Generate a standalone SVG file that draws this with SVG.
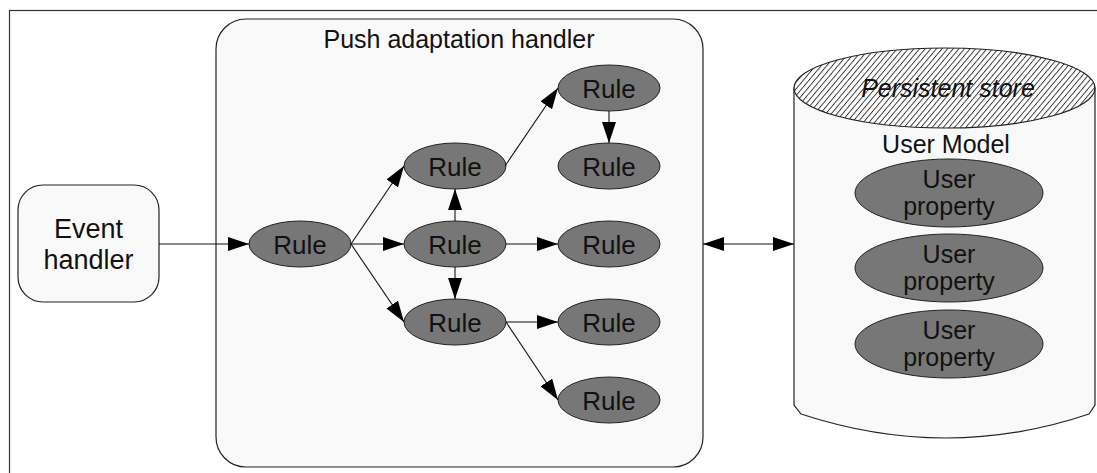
<svg xmlns="http://www.w3.org/2000/svg" width="1097" height="473" viewBox="0 0 1097 473">
  <style>
    .frame { fill: #ffffff; stroke: #333333; stroke-width: 1.2; }
    .box { fill: #f9f9f9; stroke: #222222; stroke-width: 1.2; }
    .rule { fill: #777777; stroke: #222222; stroke-width: 1; }
    .wire { fill: none; stroke: #111111; stroke-width: 1.1; }
    text { font-family: "Liberation Sans", Arial, sans-serif; fill: #111111; text-anchor: middle; }
    .title { font-size: 25px; }
    .rt { font-size: 26px; }
    .ev { font-size: 27px; }
    .up { font-size: 25px; }
  </style>
  <defs>
    <marker id="arrow" viewBox="0 0 21 14" markerWidth="21" markerHeight="14" refX="21" refY="7" orient="auto-start-reverse" markerUnits="userSpaceOnUse">
      <path d="M0,0 L21,7 L0,14 Z" fill="#000000"/>
    </marker>
    <!-- diagonal hatching for the store lid -->
    <pattern id="hatch" patternUnits="userSpaceOnUse" width="4.3" height="10" patternTransform="rotate(40)">
      <line x1="0.5" y1="-1" x2="0.5" y2="11" stroke="#000000" stroke-width="0.8"/>
    </pattern>
  </defs>

  <!-- outer frame -->
  <rect class="frame" x="9.5" y="10.5" width="1200" height="600"/>

  <!-- event handler -->
  <g id="event-handler">
    <rect class="box" x="18" y="185" width="141" height="117" rx="25" ry="25"/>
    <text class="ev" x="88.5" y="238">Event</text>
    <text class="ev" x="88.5" y="269">handler</text>
  </g>

  <!-- push adaptation handler container -->
  <g id="push-adaptation-handler">
    <rect class="box" x="216" y="19" width="487" height="448" rx="30" ry="30"/>
    <text class="title" x="459" y="48">Push adaptation handler</text>
  </g>

  <!-- rule nodes -->
  <g id="rule-1"><ellipse class="rule" cx="300" cy="244" rx="51" ry="23"/><text class="rt" x="300" y="254">Rule</text></g>
  <g id="rule-2"><ellipse class="rule" cx="455" cy="166" rx="51" ry="23"/><text class="rt" x="455" y="176">Rule</text></g>
  <g id="rule-3"><ellipse class="rule" cx="455" cy="244" rx="51" ry="23"/><text class="rt" x="455" y="254">Rule</text></g>
  <g id="rule-4"><ellipse class="rule" cx="455" cy="322" rx="51" ry="23"/><text class="rt" x="455" y="332">Rule</text></g>
  <g id="rule-5"><ellipse class="rule" cx="609" cy="88" rx="51" ry="23"/><text class="rt" x="609" y="98">Rule</text></g>
  <g id="rule-6"><ellipse class="rule" cx="609" cy="166" rx="51" ry="23"/><text class="rt" x="609" y="176">Rule</text></g>
  <g id="rule-7"><ellipse class="rule" cx="609" cy="244" rx="51" ry="23"/><text class="rt" x="609" y="254">Rule</text></g>
  <g id="rule-8"><ellipse class="rule" cx="609" cy="322" rx="51" ry="23"/><text class="rt" x="609" y="332">Rule</text></g>
  <g id="rule-9"><ellipse class="rule" cx="609" cy="400" rx="51" ry="23"/><text class="rt" x="609" y="410">Rule</text></g>

  <!-- persistent store cylinder -->
  <g id="persistent-store">
    <path class="box" d="M794,88 V405 L801,414 Q947,462 1089,414 L1095,405 V88 Z"/>
    <ellipse cx="944.5" cy="88" rx="150.5" ry="40" fill="#ffffff"/>
    <ellipse cx="944.5" cy="88" rx="150.5" ry="40" fill="url(#hatch)" stroke="#222222" stroke-width="1.2"/>
    <text class="title" x="948" y="97" font-style="italic">Persistent store</text>
    <text class="title" x="946" y="153">User Model</text>
  </g>

  <!-- user properties -->
  <g id="user-property-1"><ellipse class="rule" cx="949" cy="193" rx="94" ry="34"/><text class="up" x="949" y="188">User</text><text class="up" x="949" y="215">property</text></g>
  <g id="user-property-2"><ellipse class="rule" cx="949" cy="268" rx="94" ry="34"/><text class="up" x="949" y="263">User</text><text class="up" x="949" y="290">property</text></g>
  <g id="user-property-3"><ellipse class="rule" cx="949" cy="344" rx="94" ry="34"/><text class="up" x="949" y="339">User</text><text class="up" x="949" y="366">property</text></g>

  <!-- connectors -->
  <g id="connectors" class="wire" marker-end="url(#arrow)">
    <line x1="159" y1="244" x2="249" y2="244"/>
    <line x1="351" y1="244" x2="404" y2="166"/>
    <line x1="351" y1="244" x2="404" y2="244"/>
    <line x1="351" y1="244" x2="404" y2="322"/>
    <line x1="455" y1="221" x2="455" y2="189"/>
    <line x1="455" y1="267" x2="455" y2="299"/>
    <line x1="505" y1="166" x2="558" y2="88"/>
    <line x1="609" y1="111" x2="609" y2="143"/>
    <line x1="506" y1="244" x2="558" y2="244"/>
    <line x1="506" y1="322" x2="558" y2="322"/>
    <line x1="506" y1="322" x2="558" y2="400"/>
    <line x1="703" y1="244" x2="794" y2="244" marker-start="url(#arrow)"/>
  </g>
</svg>
